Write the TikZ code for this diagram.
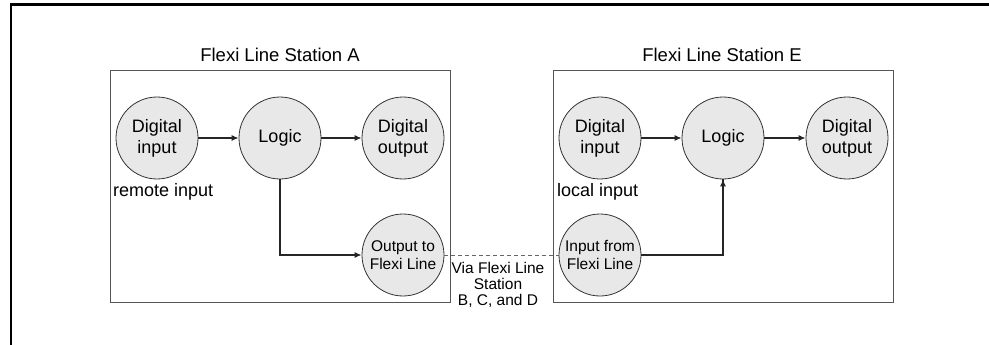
\documentclass[tikz,border=0pt]{standalone}
\usepackage{fontspec}
\setmainfont{Liberation Sans}
\usetikzlibrary{arrows.meta}
\definecolor{circfill}{HTML}{E8E8E8}
\definecolor{boxline}{HTML}{555555}
\tikzset{
  unit/.style={x=1pt,y=-1pt},
  station/.style={draw=boxline,line width=0.9pt},
  circ/.style={circle,draw=black!80,fill=circfill,line width=0.8pt,minimum size=82pt,inner sep=0pt,align=center,font=\fontsize{18}{21}\selectfont},
  smallcirc/.style={circ,font=\fontsize{15.5}{18}\selectfont},
  title/.style={font=\fontsize{18.5}{22}\selectfont},
  lbl/.style={font=\fontsize{18}{21}\selectfont,inner sep=0pt},
  flow/.style={draw=black!85,line width=1.2pt,-{Latex[length=7pt,width=6pt]}},
  link/.style={draw=black!60,line width=0.8pt,dash pattern=on 4pt off 3pt},
  frame/.style={draw=black,line width=2.2pt}
}
\begin{document}
\begin{tikzpicture}[unit]
\useasboundingbox (0,0) rectangle (989,345);
% page frame
\draw[frame] (11,345) -- (11,4.5) -- (989,4.5);
% stations
\node[title] (tA) at (280,55) {Flexi Line Station A};
\node[title] (tE) at (722,55) {Flexi Line Station E};
\draw[station] (110,70) rectangle (450,302);
\draw[station] (553,70) rectangle (893,302);
% station A
\node[circ] (dinA) at (157,138) {Digital\\input};
\node[circ] (logA) at (280,138) {Logic};
\node[circ] (doutA) at (403,138) {Digital\\output};
\node[smallcirc] (oflx) at (403,255) {Output to\\Flexi Line};
\node[lbl,anchor=west] (remA) at (113,192) {remote input};
% station E
\node[circ] (dinE) at (600,138) {Digital\\input};
\node[circ] (logE) at (723,138) {Logic};
\node[circ] (doutE) at (847,138) {Digital\\output};
\node[smallcirc] (iflx) at (600,255) {Input from\\Flexi Line};
\node[lbl,anchor=west] (locE) at (557,192) {local input};
% flows
\draw[flow] (dinA) -- (logA);
\draw[flow] (logA) -- (doutA);
\draw[flow] (logA.south) |- (oflx.west);
\draw[flow] (dinE) -- (logE);
\draw[flow] (logE) -- (doutE);
\draw[flow,-] (iflx.east) -| coordinate[pos=0.5] (bend) (logE.south);
\draw[flow] (bend) -- (logE.south);
% link
\draw[link] (oflx.east) -- (iflx.west);
\node[align=center,font=\fontsize{15.5}{16}\selectfont,inner sep=0pt] (via) at (498,285) {Via Flexi Line\\Station\\B, C, and D};
\end{tikzpicture}
\end{document}
